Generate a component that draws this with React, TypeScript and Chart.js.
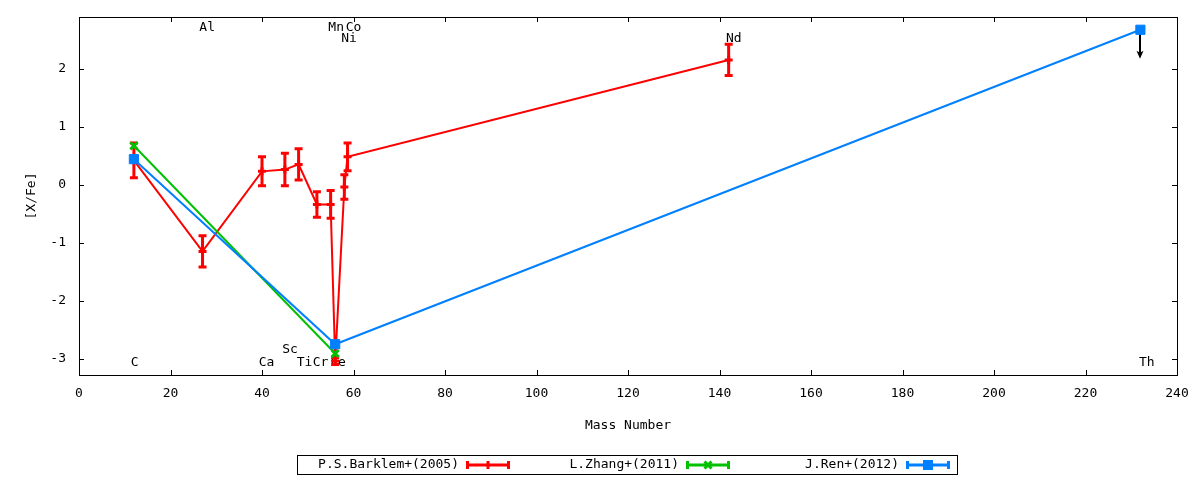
import { useEffect, useRef } from "react";
import { Chart, registerables } from "chart.js";

Chart.register(...registerables);

const FONT = "'DejaVu Sans Mono', monospace";

// P.S.Barklem+(2005)
const barklemMass = [12, 27, 40, 45, 48, 52, 55, 56, 58, 58.7, 142];
const barklemXFe = [0.42, -1.15, 0.23, 0.26, 0.35, -0.34, -0.34, -3.04, -0.04, 0.48, 2.15];
const barklemErr = [0.3, 0.27, 0.25, 0.28, 0.27, 0.22, 0.24, 0.06, 0.21, 0.24, 0.27];

// L.Zhang+(2011)
const zhangMass = [12, 56];
const zhangXFe = [0.67, -2.91];

// J.Ren+(2012)
const renMass = [12, 56, 232];
const renXFe = [0.44, -2.75, 2.67];
const renUpperLimit = [false, false, true];
const upperLimitArrowLength = 0.5;

// element annotations
const elementNames = ["C", "Al", "Ca", "Sc", "Ti", "Cr", "Mn", "Fe", "Co", "Ni", "Nd", "Th"];
const elementLabelX = [11.3, 26.3, 39.3, 44.4, 47.6, 51.1, 54.5, 54.9, 58.3, 57.3, 141.4, 231.7];
const elementLabelY = [-3.07, 2.7, -3.07, -2.85, -3.07, -3.07, 2.7, -3.07, 2.7, 2.52, 2.52, -3.07];

const xTicks = [0, 20, 40, 60, 80, 100, 120, 140, 160, 180, 200, 220, 240];
const yTicks = [-3, -2, -1, 0, 1, 2];

const RED = "#ff0000";
const GREEN = "#00c000";
const BLUE = "#0080ff";

const framePlugin = {
  id: "frame",
  beforeDatasetsDraw(chart: any) {
    const { ctx, chartArea: a, scales } = chart;
    ctx.save();
    ctx.strokeStyle = "#000";
    ctx.lineWidth = 1;
    ctx.strokeRect(Math.round(a.left) + 0.5, Math.round(a.top) + 0.5, Math.round(a.right - a.left), Math.round(a.bottom - a.top));
    const tl = 5;
    ctx.beginPath();
    for (const v of xTicks) {
      const px = Math.round(scales.x.getPixelForValue(v)) + 0.5;
      ctx.moveTo(px, a.bottom);
      ctx.lineTo(px, a.bottom - tl);
      ctx.moveTo(px, a.top);
      ctx.lineTo(px, a.top + tl);
    }
    for (const v of yTicks) {
      const py = Math.round(scales.y.getPixelForValue(v)) + 0.5;
      ctx.moveTo(a.left, py);
      ctx.lineTo(a.left + tl, py);
      ctx.moveTo(a.right, py);
      ctx.lineTo(a.right - tl, py);
    }
    ctx.stroke();
    // element labels
    ctx.fillStyle = "#000";
    ctx.font = `13px ${FONT}`;
    ctx.textAlign = "left";
    ctx.textBaseline = "middle";
    elementNames.forEach((n, i) => {
      ctx.fillText(n, scales.x.getPixelForValue(elementLabelX[i]), scales.y.getPixelForValue(elementLabelY[i]));
    });
    ctx.restore();
  },
};

const errorBarPlugin = {
  id: "errbars",
  afterDatasetDraw(chart: any, args: any) {
    const { ctx, scales } = chart;
    if (args.index === 0) {
      ctx.save();
      ctx.strokeStyle = RED;
      ctx.lineWidth = 3;
      ctx.beginPath();
      barklemMass.forEach((m, i) => {
        const px = scales.x.getPixelForValue(m);
        const y1 = scales.y.getPixelForValue(barklemXFe[i] + barklemErr[i]);
        const y2 = scales.y.getPixelForValue(barklemXFe[i] - barklemErr[i]);
        ctx.moveTo(px, y1);
        ctx.lineTo(px, y2);
        ctx.moveTo(px - 4, y1);
        ctx.lineTo(px + 4, y1);
        ctx.moveTo(px - 4, y2);
        ctx.lineTo(px + 4, y2);
      });
      ctx.stroke();
      ctx.restore();
    }
  },
  beforeDatasetDraw(chart: any, args: any) {
    const { ctx, scales } = chart;
    if (args.index === 2) {
      ctx.save();
      ctx.strokeStyle = "#000";
      ctx.fillStyle = "#000";
      ctx.lineWidth = 2;
      renMass.forEach((m, i) => {
        if (!renUpperLimit[i]) return;
        const px = Math.round(scales.x.getPixelForValue(m));
        const y1 = scales.y.getPixelForValue(renXFe[i]);
        const y2 = scales.y.getPixelForValue(renXFe[i] - upperLimitArrowLength);
        ctx.beginPath();
        ctx.moveTo(px, y1);
        ctx.lineTo(px, y2 - 4);
        ctx.stroke();
        ctx.beginPath();
        ctx.moveTo(px, y2);
        ctx.lineTo(px - 3.5, y2 - 8);
        ctx.lineTo(px, y2 - 6);
        ctx.lineTo(px + 3.5, y2 - 8);
        ctx.closePath();
        ctx.fill();
      });
      ctx.restore();
    }
  },
};

const legendPlugin = {
  id: "gpLegend",
  afterDraw(chart: any) {
    const { ctx } = chart;
    ctx.save();
    ctx.strokeStyle = "#000";
    ctx.lineWidth = 1;
    ctx.strokeRect(297.5, 455.5, 660, 19);
    const cy = 465;
    chart.data.datasets.forEach((ds: any, i: number) => {
      const tx = 459 + 220 * i;
      ctx.font = `13px ${FONT}`;
      ctx.textAlign = "right";
      ctx.textBaseline = "middle";
      ctx.fillStyle = "#000";
      ctx.fillText(ds.label, tx, cy);
      const x0 = tx + 7;
      const x1 = tx + 51;
      const xm = (x0 + x1) / 2;
      ctx.strokeStyle = ds.borderColor;
      ctx.fillStyle = ds.borderColor;
      ctx.lineWidth = 3;
      ctx.beginPath();
      ctx.moveTo(x0, cy);
      ctx.lineTo(x1, cy);
      ctx.moveTo(x0 + 1.5, cy - 4);
      ctx.lineTo(x0 + 1.5, cy + 4);
      ctx.moveTo(x1 - 1.5, cy - 4);
      ctx.lineTo(x1 - 1.5, cy + 4);
      ctx.stroke();
      ctx.beginPath();
      if (ds.pointStyle === "rect") {
        ctx.fillRect(xm - 5, cy - 5, 10, 10);
      } else if (ds.pointStyle === "crossRot") {
        ctx.moveTo(xm - 3.5, cy - 3.5);
        ctx.lineTo(xm + 3.5, cy + 3.5);
        ctx.moveTo(xm + 3.5, cy - 3.5);
        ctx.lineTo(xm - 3.5, cy + 3.5);
        ctx.stroke();
      } else {
        ctx.moveTo(xm, cy - 4);
        ctx.lineTo(xm, cy + 4);
        ctx.stroke();
      }
    });
    ctx.restore();
  },
};

export default function App() {
  const ref = useRef<HTMLCanvasElement>(null);
  useEffect(() => {
    const canvas = ref.current!;
    Chart.defaults.color = "#000";
    Chart.defaults.font.family = FONT;
    Chart.defaults.font.size = 13;
    const chart = new Chart(canvas, {
      type: "line",
      data: {
        datasets: [
          {
            label: "P.S.Barklem+(2005)",
            data: barklemMass.map((m, i) => ({ x: m, y: barklemXFe[i] })),
            borderColor: RED,
            backgroundColor: RED,
            borderWidth: 2,
            pointStyle: "cross",
            pointRadius: 4,
            pointBorderWidth: 3,
            pointBorderColor: RED,
            tension: 0,
            fill: false,
            order: 3,
          },
          {
            label: "L.Zhang+(2011)",
            data: zhangMass.map((m, i) => ({ x: m, y: zhangXFe[i] })),
            borderColor: GREEN,
            backgroundColor: GREEN,
            borderWidth: 2,
            pointStyle: "crossRot",
            pointRadius: 5,
            pointBorderWidth: 3,
            pointBorderColor: GREEN,
            tension: 0,
            fill: false,
            order: 2,
          },
          {
            label: "J.Ren+(2012)",
            data: renMass.map((m, i) => ({ x: m, y: renXFe[i] })),
            borderColor: BLUE,
            backgroundColor: BLUE,
            borderWidth: 2,
            pointStyle: "rect",
            pointRadius: 6.5,
            pointBorderWidth: 1,
            pointBorderColor: BLUE,
            pointBackgroundColor: BLUE,
            tension: 0,
            fill: false,
            order: 1,
          },
        ],
      },
      options: {
        responsive: false,
        animation: false,
        devicePixelRatio: 1,
        layout: { padding: { top: 17, right: 23, left: 0, bottom: 45 } },
        plugins: {
          legend: { display: false },
          tooltip: { enabled: false },
        },
        scales: {
          x: {
            type: "linear",
            min: 0,
            max: 240,
            grid: { display: false, drawTicks: false },
            border: { display: false },
            afterBuildTicks: (s: any) => {
              s.ticks = xTicks.map((v) => ({ value: v }));
            },
            afterFit: (s: any) => {
              s.height = 60;
              s.paddingLeft = 0;
              s.paddingRight = 0;
              s.paddingTop = 0;
              s.paddingBottom = 0;
            },
            ticks: {
              padding: 11,
              maxRotation: 0,
              autoSkip: false,
              callback: (v: any) => String(v),
              font: { family: FONT, size: 13 },
              color: "#000",
            },
            title: {
              display: true,
              text: "Mass Number",
              font: { family: FONT, size: 13 },
              color: "#000",
              padding: { top: 0, bottom: 2 },
            },
          },
          y: {
            type: "linear",
            min: -3.28,
            max: 2.89,
            grid: { display: false, drawTicks: false },
            border: { display: false },
            afterBuildTicks: (s: any) => {
              s.ticks = yTicks.map((v) => ({ value: v }));
            },
            afterFit: (s: any) => {
              s.width = 79;
              s.paddingLeft = 0;
              s.paddingRight = 0;
              s.paddingTop = 0;
              s.paddingBottom = 0;
            },
            ticks: {
              padding: 13,
              autoSkip: false,
              callback: (v: any) => String(v),
              font: { family: FONT, size: 13 },
              color: "#000",
            },
            title: {
              display: true,
              text: "[X/Fe]",
              font: { family: FONT, size: 13 },
              color: "#000",
              padding: { top: 24, bottom: 0 },
            },
          },
        },
      },
      plugins: [framePlugin, errorBarPlugin, legendPlugin],
    } as any);
    return () => chart.destroy();
  }, []);
  return (
    <div style={{ position: "absolute", left: 0, top: 0, width: 1200, height: 480, background: "#fff" }}>
      <canvas ref={ref} width={1200} height={480} style={{ width: 1200, height: 480, display: "block" }} />
    </div>
  );
}
